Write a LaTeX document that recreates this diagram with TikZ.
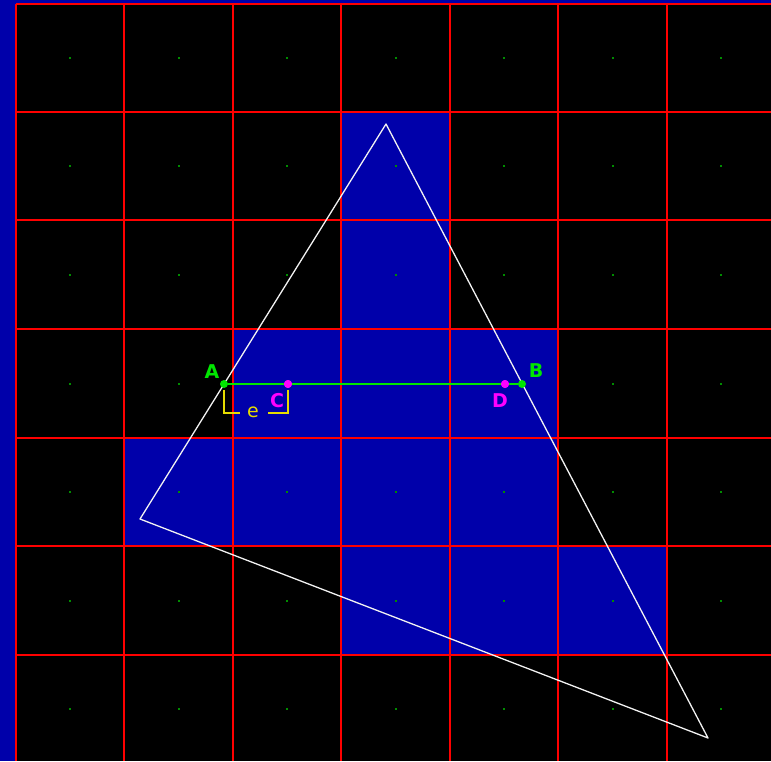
\documentclass[tikz,border=0pt]{standalone}
\usepackage{fontspec}
\setmainfont{DejaVu Sans}
\definecolor{bgblue}{RGB}{0,0,170}
\definecolor{gridred}{RGB}{255,0,0}
\definecolor{ptgreen}{RGB}{0,230,0}
\definecolor{dotgreen}{RGB}{0,140,0}
\definecolor{ptmag}{RGB}{255,0,255}
\definecolor{brkyellow}{RGB}{230,220,0}
\begin{document}
\begin{tikzpicture}[x=1pt,y=-1pt,
  gridline/.style={draw=gridred,line width=1.4pt},
  tri/.style={draw=white!90!gray,line width=1.3pt,line join=round},
  lbl/.style={font=\fontsize{19}{19}\selectfont\bfseries,inner sep=0pt},
  gdot/.style={circle,fill=ptgreen,inner sep=0pt,minimum size=8pt},
  mdot/.style={circle,fill=ptmag,inner sep=0pt,minimum size=8pt}]
\useasboundingbox (0,0) rectangle (771,761);
\fill[black] (0,0) rectangle (771,761);
\fill[bgblue] (0,0) rectangle (16,761);
\fill[bgblue] (0,0) rectangle (771,4);
% grid positions
\def\gx{{16,124,233,341,450,558,667,775}}
\def\gy{{4,112,220,329,438,546,655,763}}
% blue cells
\foreach \c/\r in {3/1,3/2,2/3,3/3,4/3,1/4,2/4,3/4,4/4,3/5,4/5,5/5}{
  \pgfmathsetmacro{\xa}{\gx[\c]}
  \pgfmathsetmacro{\xb}{\gx[\c+1]}
  \pgfmathsetmacro{\ya}{\gy[\r]}
  \pgfmathsetmacro{\yb}{\gy[\r+1]}
  \fill[bgblue] (\xa,\ya) rectangle (\xb,\yb);
}
% cell centre dots
\foreach \c in {0,...,6}{
  \foreach \r in {0,...,6}{
    \pgfmathsetmacro{\xm}{round((\gx[\c]+\gx[\c+1])/2)}
    \pgfmathsetmacro{\ym}{round((\gy[\r]+\gy[\r+1])/2)}
    \fill[dotgreen] (\xm-1,\ym-1) rectangle ++(2,2);
  }
}
% grid
\foreach \c in {0,...,6}{
  \pgfmathsetmacro{\xa}{\gx[\c]}
  \draw[gridline] (\xa,4) -- (\xa,761);
}
\foreach \r in {0,...,6}{
  \pgfmathsetmacro{\ya}{\gy[\r]}
  \draw[gridline] (16,\ya) -- (771,\ya);
}
% triangle
\coordinate (P1) at (386,124);
\coordinate (P2) at (140,519);
\coordinate (P3) at (708,738);
\draw[tri] (P1) -- (P2) -- (P3) -- cycle;
% span
\node[gdot] (A) at (224,384) {};
\node[gdot] (B) at (522,384) {};
\node[mdot] (C) at (288,384) {};
\node[mdot] (D) at (505,384) {};
\draw[ptgreen,line width=1.4pt] (A) -- (C) -- (D) -- (B);
\node[mdot] at (C) {};
\node[mdot] at (D) {};
\node[lbl,text=ptgreen] (la) at (212,372) {A};
\node[lbl,text=ptgreen] (lb) at (536,371) {B};
\node[lbl,text=ptmag] (lc) at (277,401) {C};
\node[lbl,text=ptmag] (ld) at (500,401) {D};
% bracket
\node[lbl,text=brkyellow,font=\fontsize{19}{19}\selectfont] (le) at (253,412) {e};
\coordinate (b1) at (224,390);
\coordinate (b2) at (224,413);
\coordinate (b3) at (240,413);
\coordinate (b4) at (268,413);
\coordinate (b5) at (288,413);
\coordinate (b6) at (288,390);
\draw[brkyellow,line width=1.4pt] (b1) -- (b2) -- (b3);
\draw[brkyellow,line width=1.4pt] (b4) -- (b5) -- (b6);
\end{tikzpicture}
\end{document}
